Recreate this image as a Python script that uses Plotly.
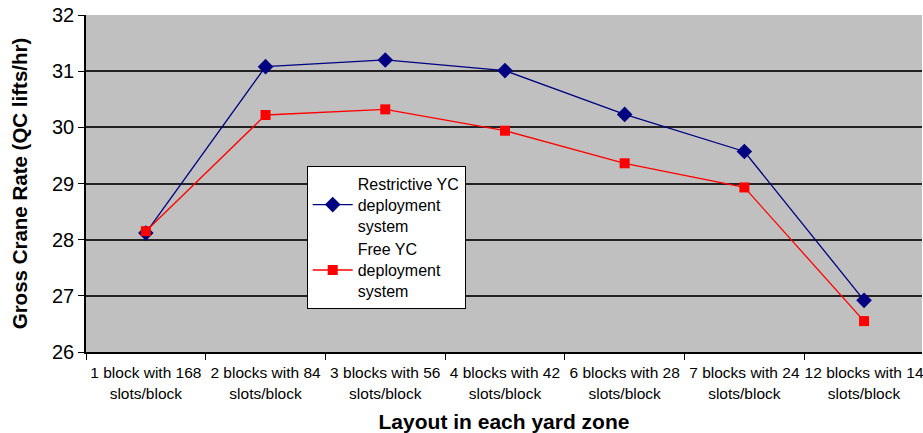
import plotly.graph_objects as go

categories = ["1 block with 168<br>slots/block", "2 blocks with 84<br>slots/block",
              "3 blocks with 56<br>slots/block", "4 blocks with 42<br>slots/block",
              "6 blocks with 28<br>slots/block", "7 blocks with 24<br>slots/block",
              "12 blocks with 14<br>slots/block"]
restrictive = [28.12, 31.08, 31.2, 31.01, 30.23, 29.57, 26.92]
free = [28.15, 30.22, 30.32, 29.94, 29.36, 28.93, 26.55]
y_ticks = [26, 27, 28, 29, 30, 31, 32]

fig = go.Figure()
fig.add_trace(go.Scatter(x=categories, y=restrictive, mode="lines+markers",
                         name="Restrictive YC<br>deployment<br>system",
                         line=dict(color="#000080", width=1.3),
                         marker=dict(symbol="diamond", size=12, color="#000080")))
fig.add_trace(go.Scatter(x=categories, y=free, mode="lines+markers",
                         name="Free YC<br>deployment<br>system",
                         line=dict(color="#FF0000", width=1.3),
                         marker=dict(symbol="square", size=10, color="#FF0000")))

fig.update_layout(
    width=923, height=433,
    margin=dict(l=86, r=1, t=15, b=81),
    paper_bgcolor="white", plot_bgcolor="#C0C0C0",
    font=dict(family="Liberation Sans, Arial", color="black"),
    showlegend=True,
    legend=dict(x=0.264, y=0.34, xanchor="left", yanchor="middle",
                bgcolor="white", bordercolor="black", borderwidth=1,
                font=dict(size=16), tracegroupgap=2, itemwidth=40),
)
fig.update_xaxes(type="category", range=[-0.5, 6.484], tickson="boundaries", ticks="outside", ticklen=6,
                 tickcolor="black", showline=True, linecolor="black", linewidth=1.5,
                 showgrid=False, tickfont=dict(size=15.5), tickangle=0, automargin=False,
                 ticklabelstandoff=6,
                 title=dict(text="<b>Layout in each yard zone</b>", font=dict(size=21), standoff=15))
fig.update_yaxes(range=[26, 32], tickvals=y_ticks, ticks="outside", ticklen=6,
                 tickcolor="black", showline=True, linecolor="black", linewidth=1.5,
                 showgrid=True, gridcolor="#222222", gridwidth=1.5, zeroline=False,
                 tickfont=dict(size=20), automargin=False,
                 title=dict(text="<b>Gross Crane Rate (QC lifts/hr)</b>", font=dict(size=20.5), standoff=19))

fig.write_html("out.html", config={"displayModeBar": False},
               post_script="document.body.style.margin='0';document.body.style.overflow='hidden';")
